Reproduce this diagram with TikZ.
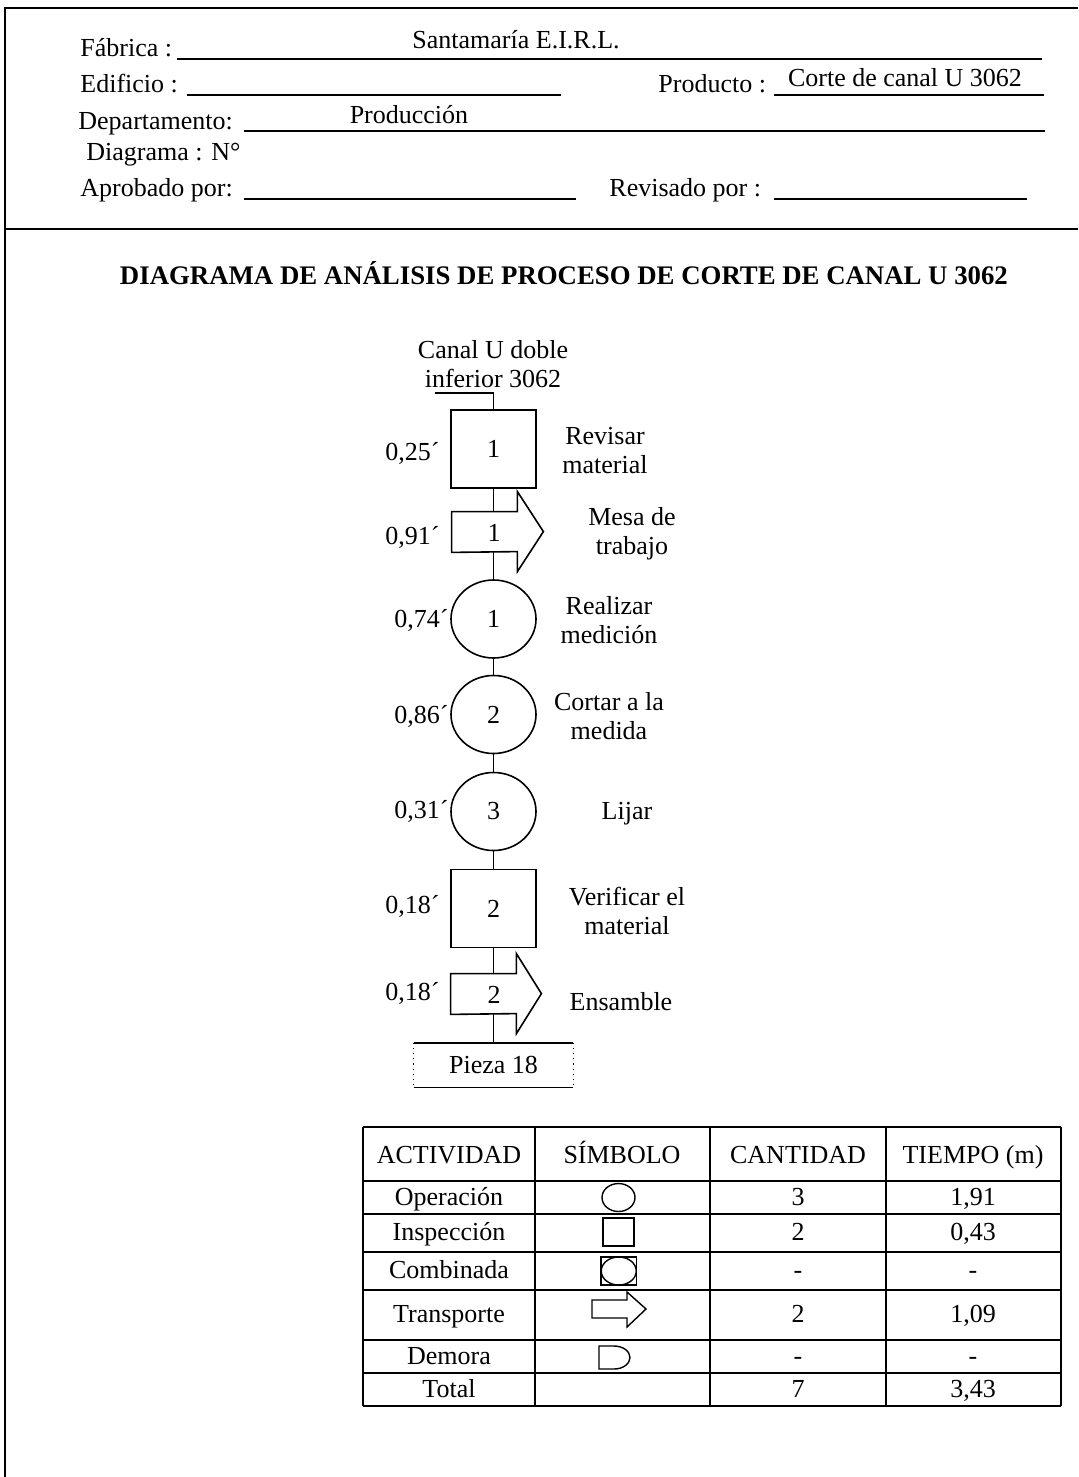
\documentclass[tikz,border=0pt]{standalone}
\usepackage{fontspec}
\setmainfont{Liberation Serif}
\usetikzlibrary{shapes.geometric}
\begin{document}
\begin{tikzpicture}[x=0.5pt,y=-0.5pt,
  every node/.style={font=\fontsize{13}{14.5}\selectfont, inner sep=0pt},
  txt/.style={text height=1.5ex, text depth=.25ex, yshift=-1pt},
  frame/.style={line width=1pt},
  uline/.style={line width=0.6pt},
  conn/.style={line width=0.8pt},
  insp/.style={draw, line width=0.8pt, minimum width=42.5pt, minimum height=39pt},
  oper/.style={draw, ellipse, line width=0.8pt, minimum width=42.5pt, minimum height=39pt},
  tbody/.style={minimum width=32.5pt, minimum height=20pt},
  lbl/.style={align=center},
  tm/.style={anchor=east, txt},
  hd/.style={anchor=west, txt},
  grid/.style={line width=0.75pt},
  sym/.style={line width=0.7pt},
  dotside/.style={line width=0.8pt, dash pattern=on 0.6pt off 2pt},
]
\useasboundingbox (0,0) rectangle (1078,1477);

% frame
\draw[frame] (5,1477) -- (5,8) -- (1078,8);
\draw[frame] (5,229) -- (1078,229);

% header
\node[hd] (fab) at (80,49) {Fábrica :};
\node[txt] (fabv) at (516,41) {Santamaría E.I.R.L.};
\draw[uline] (177,59) -- (1042,59);
\node[hd] (edi) at (80,85) {Edificio :};
\draw[uline] (187,95) -- (561,95);
\node[hd] (pro) at (658,85) {Producto :};
\node[txt] (prov) at (905,79) {Corte de canal U 3062};
\draw[uline] (774,95) -- (1044,95);
\node[hd] (dep) at (78,122) {Departamento:};
\node[txt] (depv) at (409,116) {Producción};
\draw[uline] (244,131) -- (1045,131);
\node[hd] (dia) at (86,153) {Diagrama : N°};
\node[hd] (apr) at (80,189) {Aprobado por:};
\draw[uline] (244,199) -- (576,199);
\node[hd] (rev) at (609,189) {Revisado por :};
\draw[uline] (774,199) -- (1027,199);

% title
\node[txt, font=\fontsize{13.4}{15}\selectfont\bfseries] (title) at (564,277)
  {DIAGRAMA DE ANÁLISIS DE PROCESO DE CORTE DE CANAL U 3062};

% flow
\node[lbl] (src) at (493,364) {Canal U doble\\inferior 3062};
\coordinate (s0) at (435,393);
\node[insp] (b1) at (493.5,449) {\raisebox{-1pt}{1}};
\node[tbody] (t1) at (484.5,532) {};
\node (t1n) at (494,533) {1};
\node[oper] (o1) at (493.5,619) {1};
\node[oper] (o2) at (493.5,714.5) {2};
\node[oper] (o3) at (493.5,811.5) {3};
\node[insp] (b2) at (493.5,908.5) {2};
\node[tbody] (t2) at (483.5,994) {};
\node (t2n) at (494,995) {2};
\node[minimum width=79.5pt, minimum height=22pt] (fin) at (493.5,1065) {Pieza 18};

\draw[conn] (t1.north west) -- (t1.north east) -- ++(0,-20) -- ++(26,40) -- ++(-26,40) -- ++(0,-20) -- (t1.south west) -- cycle;
\draw[conn] (t2.north west) -- (t2.north east) -- ++(0,-20) -- ++(25,40) -- ++(-25,40) -- ++(0,-20) -- (t2.south west) -- cycle;

\draw[conn] (s0) -- (s0 -| b1.north) -- (b1.north);
\draw[conn] (b1.south) -- (b1.south |- t1.north);
\draw[conn] (o1.north |- t1.south) -- (o1.north);
\draw[conn] (o1.south) -- (o2.north);
\draw[conn] (o2.south) -- (o3.north);
\draw[conn] (o3.south) -- (b2.north);
\draw[conn] (b2.south) -- (b2.south |- t2.north);
\draw[conn] (fin.north |- t2.south) -- (fin.north);

\draw[line width=0.9pt] (fin.north west) -- (fin.north east);
\draw[line width=0.9pt] (fin.south west) -- (fin.south east);
\draw[dotside] (fin.north west) -- (fin.south west);
\draw[dotside] (fin.north east) -- (fin.south east);

% times
\node[tm] (m1) at (440,453) {0,25´};
\node[tm] (m2) at (440,537) {0,91´};
\node[tm] (m3) at (449,620) {0,74´};
\node[tm] (m4) at (449,716) {0,86´};
\node[tm] (m5) at (449,811) {0,31´};
\node[tm] (m6) at (440,906) {0,18´};
\node[tm] (m7) at (440,993) {0,18´};

% descriptions
\node[lbl] (d1) at (605,451) {Revisar\\material};
\node[lbl] (d2) at (632,534) {Mesa de\\trabajo};
\node[lbl] (d3) at (609,620) {Realizar\\medición};
\node[lbl] (d4) at (609,716) {Cortar a la\\medida};
\node[lbl] (d5) at (627,814) {Lijar};
\node[lbl] (d6) at (627,911) {Verificar el\\material};
\node[lbl] (d7) at (621,1002) {Ensamble};

% table
\foreach \y in {1127,1181,1214,1252,1290,1340,1373,1406} \draw[grid] (363,\y) -- (1061,\y);
\foreach \x in {363,535,710,886,1061} \draw[grid] (\x,1127) -- (\x,1406);

\node[txt] (h1) at (449,1156) {ACTIVIDAD};
\node[txt] (h2) at (622,1156) {SÍMBOLO};
\node[txt] (h3) at (798,1156) {CANTIDAD};
\node[txt] (h4) at (973,1156) {TIEMPO (m)};

\node[txt] (a1) at (449,1197.5) {Operación};
\node[txt] (a2) at (449,1233) {Inspección};
\node[txt] (a3) at (449,1271) {Combinada};
\node[txt] (a4) at (449,1315) {Transporte};
\node[txt] (a5) at (449,1356.5) {Demora};
\node[txt] (a6) at (449,1389.5) {Total};

\node[txt] (c1) at (798,1197.5) {3};
\node[txt] (c2) at (798,1233) {2};
\node[txt] (c3) at (798,1271) {-};
\node[txt] (c4) at (798,1315) {2};
\node[txt] (c5) at (798,1356.5) {-};
\node[txt] (c6) at (798,1389.5) {7};

\node[txt] (e1) at (973,1197.5) {1,91};
\node[txt] (e2) at (973,1233) {0,43};
\node[txt] (e3) at (973,1271) {-};
\node[txt] (e4) at (973,1315) {1,09};
\node[txt] (e5) at (973,1356.5) {-};
\node[txt] (e6) at (973,1389.5) {3,43};

% symbols
\draw[sym] (618.5,1197.5) ellipse [x radius=8.25pt, y radius=7pt];
\draw[sym] (603,1218) rectangle (634,1246);
\draw[sym] (601,1257) rectangle (636.5,1285);
\draw[sym] (618.75,1271) ellipse [x radius=8.75pt, y radius=7pt];
\draw[sym] (592,1300) -- (627,1300) -- (627,1292) -- (646,1309) -- (627,1327) -- (627,1318) -- (592,1318) -- cycle;
\draw[sym] (599,1346) -- (614,1346) arc[start angle=90, end angle=-90, x radius=8pt, y radius=5.75pt] -- (599,1369) -- cycle;
\end{tikzpicture}
\end{document}
